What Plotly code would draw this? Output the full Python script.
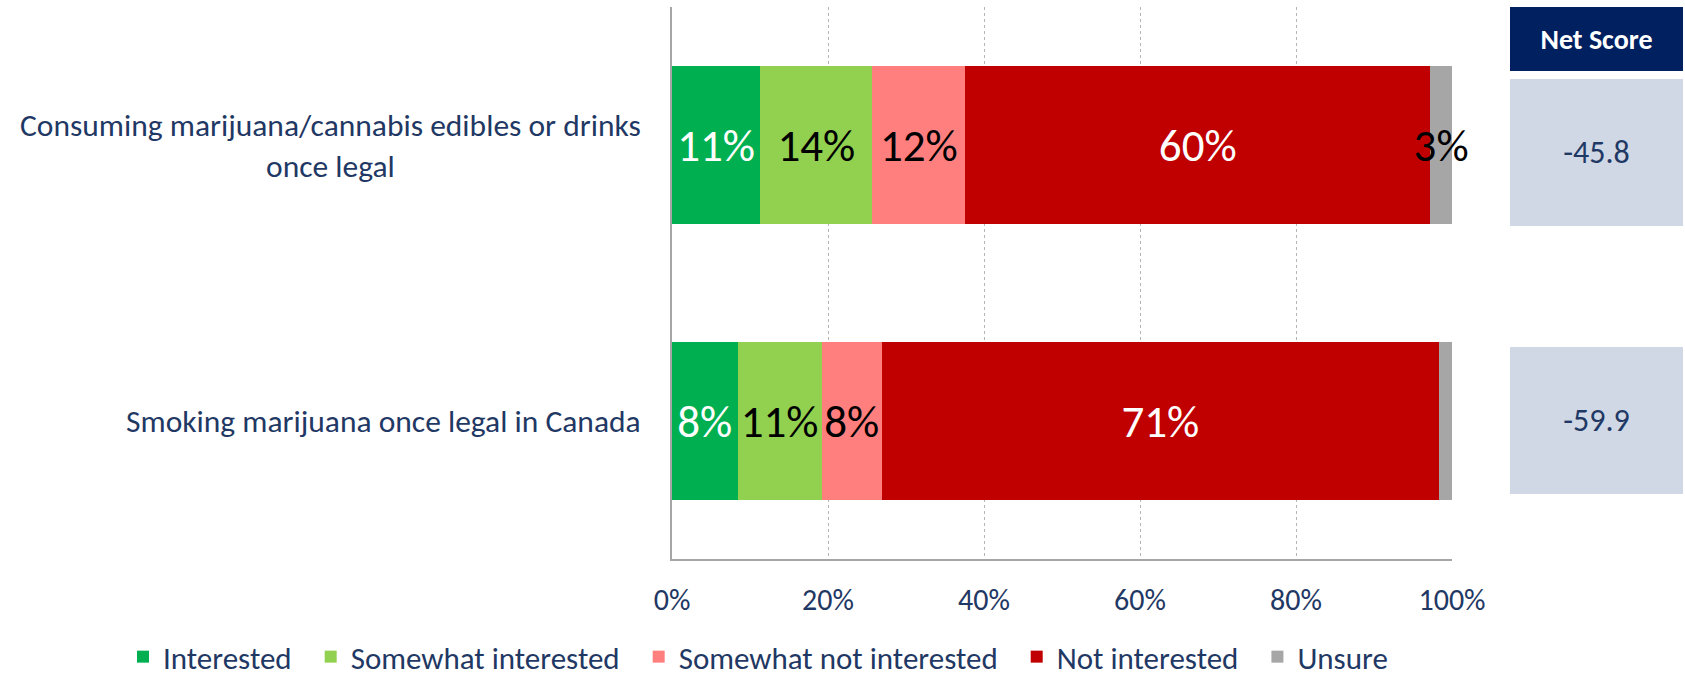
import plotly.graph_objects as go

# ---------------- data ----------------
categories = [
    "Consuming marijuana/cannabis edibles or drinks<br>once legal",
    "Smoking marijuana once legal in Canada",
]
series_names = ["Interested", "Somewhat interested", "Somewhat not interested",
                "Not interested", "Unsure"]
interested = [11.3, 8.4]
somewhat_interested = [14.4, 10.8]
somewhat_not_interested = [11.9, 7.7]
not_interested = [59.6, 71.4]
unsure = [2.8, 1.7]
net_scores = [-45.8, -59.9]
net_header = "Net Score"
x_ticks = [0, 20, 40, 60, 80, 100]
x_tick_labels = ["0%", "20%", "40%", "60%", "80%", "100%"]

# ---------------- style ----------------
W, H = 1685, 678
FONT = "Carlito, Calibri, Lato, sans-serif"
NAVY = "#1F3864"
colors = ["#00B050", "#92D050", "#FF7F7F", "#C00000", "#A6A6A6"]
text_colors = ["white", "black", "black", "white", "black"]
values = [interested, somewhat_interested, somewhat_not_interested, not_interested, unsure]

plot_l, plot_r = 672, 1452
plot_t, plot_b = 7, 559
ph = plot_b - plot_t

fig = go.Figure()
for i, (name, vals, col, tcol) in enumerate(zip(series_names, values, colors, text_colors)):
    pad = "\u00a0\u00a0" if i < len(series_names) - 1 else ""
    fig.add_trace(go.Bar(
        name=name + pad, y=categories, x=vals, orientation="h",
        marker=dict(color=col, line=dict(width=0)),
        texttemplate="%{x:.0f}%", textposition="inside",
        insidetextanchor="middle", constraintext="none", textangle=0,
        textfont=dict(family=FONT, size=45, color=tcol),
        cliponaxis=False, hoverinfo="x+name",
    ))

# net score boxes (second subplot)
fig.add_trace(go.Bar(
    y=categories, x=[1] * len(net_scores), orientation="h",
    xaxis="x2", yaxis="y2", width=0.5485,
    marker=dict(color="#D0D8E6", line=dict(width=0)),
    text=[f"{v:.1f}" for v in net_scores], textposition="inside",
    insidetextanchor="middle", constraintext="none", textangle=0,
    textfont=dict(family=FONT, size=32, color=NAVY),
    showlegend=False, hoverinfo="skip",
))

annotations = []
for c in categories:
    annotations.append(dict(
        x=642.6 / W, xref="paper", xanchor="right",
        y=c, yref="y", yanchor="middle",
        text=c, showarrow=False, align="center",
        font=dict(family=FONT, size=31.5, color=NAVY),
    ))
annotations.append(dict(
    x=0.5, xref="x2 domain", xanchor="center",
    y=1.0, yref="paper", yanchor="top",
    text=f"<b>{net_header}</b>", showarrow=False,
    bgcolor="#002060", width=173, height=64, borderpad=0, borderwidth=0,
    font=dict(family=FONT, size=28, color="white"),
))

fig.update_layout(
    width=W, height=H, autosize=False,
    margin=dict(l=0, r=0, t=plot_t, b=H - plot_b, pad=0, autoexpand=False),
    paper_bgcolor="white", plot_bgcolor="white",
    barmode="stack", bargap=0.428,
    font=dict(family=FONT, color=NAVY),
    xaxis=dict(
        domain=[plot_l / W, plot_r / W], range=[0, 100],
        tickmode="array", tickvals=x_ticks, ticktext=x_tick_labels, ticks="",
        showgrid=True, gridcolor="#B5B5B5", griddash="dot", gridwidth=1,
        showline=True, linecolor="#A6A6A6", linewidth=1.5,
        zeroline=False, ticklabelstandoff=13, automargin=False,
        tickfont=dict(family=FONT, size=30, color=NAVY),
    ),
    yaxis=dict(
        domain=[0, 1], range=[1.5, -0.5], type="category",
        showticklabels=False, showgrid=False, zeroline=False, automargin=False,
        showline=True, linecolor="#A6A6A6", linewidth=1.5,
    ),
    xaxis2=dict(domain=[1510 / W, 1683 / W], range=[0, 1], visible=False, anchor="y2"),
    yaxis2=dict(domain=[(plot_b - 554.5) / ph, (plot_b - 18.5) / ph],
                range=[1.5, -0.5], type="category", visible=False, anchor="x2"),
    legend=dict(
        orientation="h", xref="container", x=758 / W, xanchor="center",
        yref="container", y=1 - 657 / H, yanchor="middle",
        font=dict(family=FONT, size=31, color=NAVY),
        traceorder="normal", itemclick=False,
    ),
    annotations=annotations,
    showlegend=True,
)

fig.write_html(
    "out.html",
    config={"displayModeBar": False},
    post_script="document.body.style.margin='0';document.body.style.overflow='hidden';",
)
